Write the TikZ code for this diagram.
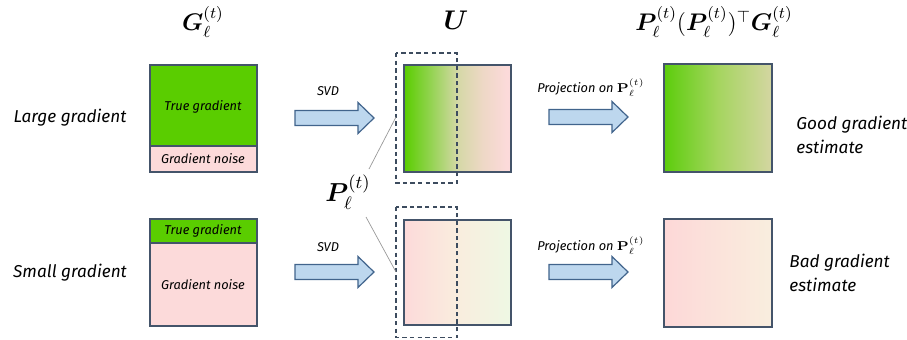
\RequirePackage{fix-cm}
\documentclass[tikz,border=0pt]{standalone}
\usepackage{amsmath,bm}
\usepackage[no-math]{fontspec}
\newfontfamily\handfont{Fira Sans}
\definecolor{gG}{RGB}{90,205,0}
\definecolor{nP}{RGB}{252,218,218}
\definecolor{bd}{RGB}{68,84,106}
\definecolor{aF}{RGB}{189,215,238}
\definecolor{aB}{RGB}{65,100,140}
\definecolor{uA}{RGB}{145,211,78}
\definecolor{uB}{RGB}{212,216,166}
\definecolor{uC}{RGB}{238,216,198}
\definecolor{vA}{RGB}{253,218,218}
\definecolor{vB}{RGB}{249,237,222}
\definecolor{vC}{RGB}{238,248,228}
\definecolor{rA}{RGB}{92,205,12}
\definecolor{rB}{RGB}{165,213,95}
\definecolor{rC}{RGB}{212,214,162}
\definecolor{sA}{RGB}{253,216,216}
\definecolor{sC}{RGB}{249,238,222}
\pgfdeclarehorizontalshading{utop}{100bp}{color(0bp)=(gG); color(25bp)=(gG); color(37bp)=(uA); color(50bp)=(uB); color(62bp)=(uC); color(73bp)=(nP); color(100bp)=(nP)}
\pgfdeclarehorizontalshading{ubot}{100bp}{color(0bp)=(vA); color(25bp)=(vA); color(50bp)=(vB); color(75bp)=(vC); color(100bp)=(vC)}
\pgfdeclarehorizontalshading{rtop}{100bp}{color(0bp)=(rA); color(25bp)=(rA); color(50bp)=(rB); color(75bp)=(rC); color(100bp)=(rC)}
\pgfdeclarehorizontalshading{rbot}{100bp}{color(0bp)=(sA); color(25bp)=(sA); color(75bp)=(sC); color(100bp)=(sC)}
\begin{document}
\begin{tikzpicture}[x=0.5pt,y=-0.5pt,
  bdst/.style={draw=bd,line width=0.75pt},
  dashst/.style={draw=bd!90!black,line width=0.7pt,dash pattern=on 2.2pt off 1.6pt},
  arrowst/.style={draw=aB,fill=aF,line width=0.6pt,line join=miter},
  hand/.style={font=\handfont\itshape\fontsize{8.6}{12}\selectfont},
  inbox/.style={font=\handfont\itshape\fontsize{6.4}{8}\selectfont},
  small/.style={font=\handfont\itshape\fontsize{6.4}{8}\selectfont},
  mtitle/.style={font=\fontsize{12}{14}\selectfont},
  barrow/.pic={\draw[arrowst] (0,-7.5) -- (63,-7.5) -- (63,-15.5) -- (79,0) -- (63,15.5) -- (63,7.5) -- (0,7.5) -- cycle;}
]
\useasboundingbox (0,0) rectangle (907,339);

% titles
\node[mtitle] (tG) at (203,22) {$\boldsymbol{G}_\ell^{(t)}$};
\node[mtitle,font=\fontsize{13.5}{15}\selectfont] (tU) at (456,20) {$\boldsymbol{U}$};
\node[mtitle] (tR) at (714,22) {$\boldsymbol{P}_\ell^{(t)}(\boldsymbol{P}_\ell^{(t)})^{\top}\boldsymbol{G}_\ell^{(t)}$};

% row labels
\node[hand] (lg) at (70,118) {Large gradient};
\node[hand] (sg) at (70,273) {Small gradient};

% G boxes
\fill[gG] (150,65) rectangle (257,146);
\fill[nP] (150,146) rectangle (257,172);
\draw[bdst] (150,65) rectangle (257,172);
\draw[bdst] (150,146) -- (257,146);
\node[inbox] (tg1) at (203,107) {True gradient};
\node[inbox] (gn1) at (203,159) {Gradient noise};

\fill[gG] (150,219) rectangle (257,243);
\fill[nP] (150,243) rectangle (257,326);
\draw[bdst] (150,219) rectangle (257,326);
\draw[bdst] (150,243) -- (257,243);
\node[inbox] (tg2) at (203,231) {True gradient};
\node[inbox] (gn2) at (203,285) {Gradient noise};

% SVD arrows
\pic at (295,118) {barrow};
\pic at (295,272) {barrow};
\node[small] (svd1) at (328,91) {SVD};
\node[small] (svd2) at (328,247) {SVD};

% U boxes
\shade[shading=utop] (404,65) rectangle (511,172);
\draw[bdst] (404,65) rectangle (511,172);
\draw[dashst] (396,53) rectangle (457,183);
\shade[shading=ubot] (404,220) rectangle (511,325);
\draw[bdst] (404,220) rectangle (511,325);
\draw[dashst] (396,207) rectangle (457,337.5);

% P label and leader lines
\node[font=\fontsize{13}{15}\selectfont] (Pl) at (348,192) {$\boldsymbol{P}_\ell^{(t)}$};
\coordinate (c1) at (369,169);
\coordinate (c2) at (396,117);
\coordinate (c3) at (366,217);
\coordinate (c4) at (396,272);
\draw[gray!80,line width=0.35pt] (c1) -- (c2);
\draw[gray!80,line width=0.35pt] (c3) -- (c4);

% projection arrows
\pic at (549,117) {barrow};
\pic at (549,272) {barrow};
\node[small,inner sep=0pt] (pj1) at (591,88) {Projection on $\mathbf{P}_\ell^{(t)}$};
\node[small,inner sep=0pt] (pj2) at (591,246) {Projection on $\mathbf{P}_\ell^{(t)}$};

% result boxes
\shade[shading=rtop] (664,64) rectangle (772,172);
\draw[bdst] (664,64) rectangle (772,172);
\shade[shading=rbot] (664,219) rectangle (772,327);
\draw[bdst] (664,219) rectangle (772,327);

\node[hand,anchor=west,align=left,inner sep=0pt] (good) at (796,135) {Good gradient\\estimate};
\node[hand,anchor=west,align=left,inner sep=0pt] (bad) at (789,273) {Bad gradient\\estimate};
\end{tikzpicture}
\end{document}
